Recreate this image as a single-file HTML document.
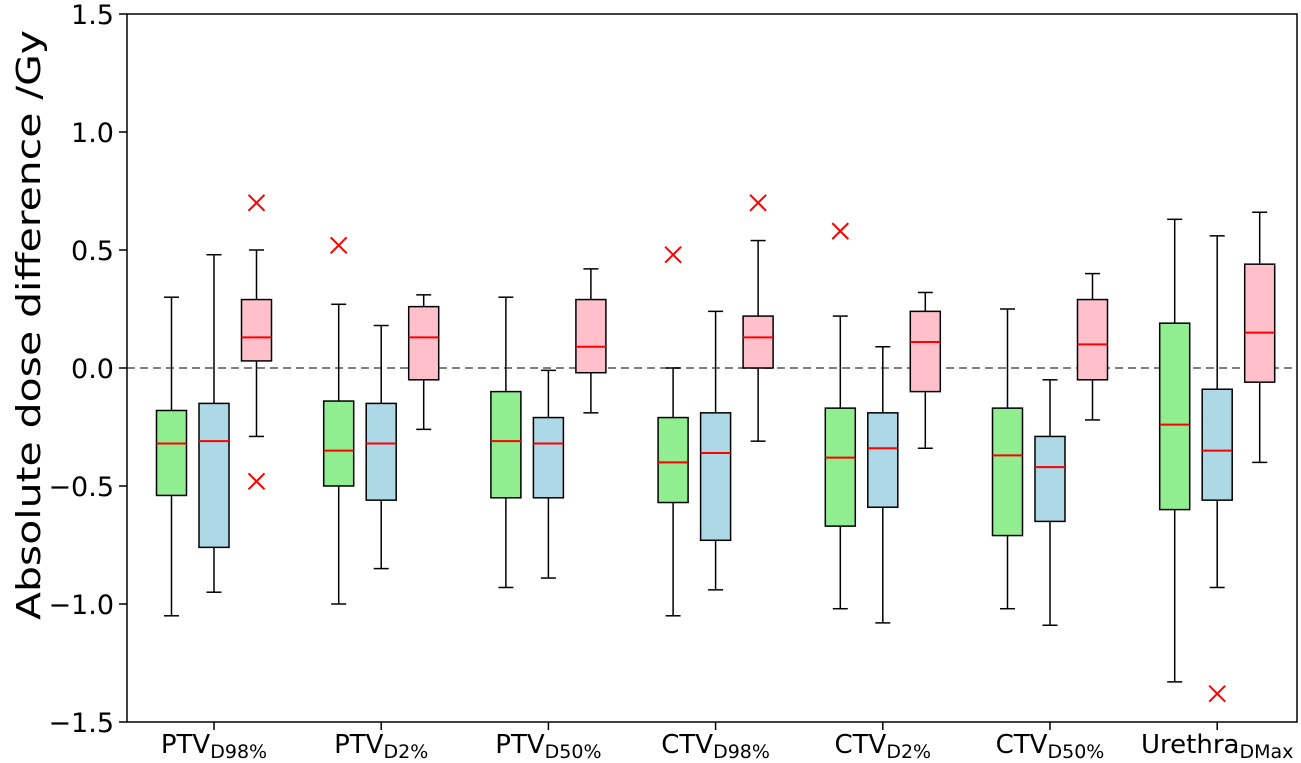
<!DOCTYPE html>
<html><head><meta charset="utf-8"><style>
html,body{margin:0;padding:0;background:#fff;}
svg{display:block;font-family:"DejaVu Sans","Liberation Sans",sans-serif;}
</style></head><body>
<svg id="chart" width="1301" height="763" viewBox="0 0 1301 763">
<text transform="translate(40,325) rotate(-90)" text-anchor="middle" font-size="33" textLength="590" lengthAdjust="spacingAndGlyphs">Absolute dose difference /Gy</text>
</svg>
<script>
const categories=["PTV|D98%","PTV|D2%","PTV|D50%","CTV|D98%","CTV|D2%","CTV|D50%","Urethra|DMax"];
// [whiskerLow, q1, median, q3, whiskerHigh]
const greenStats=[[-1.05,-0.54,-0.32,-0.18,0.30],[-1.00,-0.50,-0.35,-0.14,0.27],[-0.93,-0.55,-0.31,-0.10,0.30],[-1.05,-0.57,-0.40,-0.21,0.00],[-1.02,-0.67,-0.38,-0.17,0.22],[-1.02,-0.71,-0.37,-0.17,0.25],[-1.33,-0.60,-0.24,0.19,0.63]];
const blueStats=[[-0.95,-0.76,-0.31,-0.15,0.48],[-0.85,-0.56,-0.32,-0.15,0.18],[-0.89,-0.55,-0.32,-0.21,-0.01],[-0.94,-0.73,-0.36,-0.19,0.24],[-1.08,-0.59,-0.34,-0.19,0.09],[-1.09,-0.65,-0.42,-0.29,-0.05],[-0.93,-0.56,-0.35,-0.09,0.56]];
const pinkStats=[[-0.29,0.03,0.13,0.29,0.50],[-0.26,-0.05,0.13,0.26,0.31],[-0.19,-0.02,0.09,0.29,0.42],[-0.31,0.00,0.13,0.22,0.54],[-0.34,-0.10,0.11,0.24,0.32],[-0.22,-0.05,0.10,0.29,0.40],[-0.40,-0.06,0.15,0.44,0.66]];
const greenOutliers=[[],[0.52],[],[0.48],[0.58],[],[]];
const blueOutliers=[[],[],[],[],[],[],[-1.38]];
const pinkOutliers=[[0.70,-0.48],[],[],[0.70],[],[],[]];
const yTicks=[-1.5,-1.0,-0.5,0.0,0.5,1.0,1.5];
const yTickLabels=["\u22121.5","\u22121.0","\u22120.5","0.0","0.5","1.0","1.5"];

const svg=document.getElementById('chart');
const NS="http://www.w3.org/2000/svg";
const L=127,R=1297,T=14,B=722;
const y=v=>368-v*236;
const x=i=>214+i*167.2;
function mk(tag,attrs,parent){const e=document.createElementNS(NS,tag);for(const k in attrs)e.setAttribute(k,attrs[k]);(parent||svg).appendChild(e);return e;}

const zero=mk('line',{x1:L,x2:R,y1:y(0),y2:y(0),stroke:'#808080','stroke-width':2,'stroke-dasharray':'8,5'});



const series=[[greenStats,greenOutliers,'#90ee90',-42.5,'green'],[blueStats,blueOutliers,'#add8e6',0,'blue'],[pinkStats,pinkOutliers,'#ffc0cb',42.5,'pink']];
series.forEach(([st,out,col,off,nm])=>{
  st.forEach((s,i)=>{
    const cx=x(i)+off,w=30;
    const g=mk('g',{});
    
    
    mk('line',{x1:cx,x2:cx,y1:y(s[4]),y2:y(s[3]),stroke:'#000','stroke-width':1.5},g);
    mk('line',{x1:cx,x2:cx,y1:y(s[1]),y2:y(s[0]),stroke:'#000','stroke-width':1.5},g);
    mk('line',{x1:cx-w/4,x2:cx+w/4,y1:y(s[4]),y2:y(s[4]),stroke:'#000','stroke-width':1.5},g);
    mk('line',{x1:cx-w/4,x2:cx+w/4,y1:y(s[0]),y2:y(s[0]),stroke:'#000','stroke-width':1.5},g);
    mk('rect',{x:cx-w/2,y:y(s[3]),width:w,height:y(s[1])-y(s[3]),fill:col,stroke:'#000','stroke-width':1.5},g);
    mk('line',{x1:cx-w/2,x2:cx+w/2,y1:y(s[2]),y2:y(s[2]),stroke:'#ff0000','stroke-width':2},g);
    out[i].forEach(v=>{
      const o=mk('path',{d:`M${cx-8},${y(v)-8}L${cx+8},${y(v)+8}M${cx-8},${y(v)+8}L${cx+8},${y(v)-8}`,stroke:'#ff0000','stroke-width':2,fill:'none'});
      
      
    });
  });
});

const frame=mk('rect',{x:L,y:T,width:R-L,height:B-T,fill:'none',stroke:'#000','stroke-width':1.5});



yTicks.forEach((v,i)=>{
  mk('line',{x1:L-8,x2:L,y1:y(v),y2:y(v),stroke:'#000','stroke-width':1.5});
  const t=mk('text',{x:L-13,y:y(v)+10,'text-anchor':'end','font-size':27});
  t.textContent=yTickLabels[i];
  
  
});
categories.forEach((c,i)=>{
  const [main,sub]=c.split('|');
  mk('line',{x1:x(i),x2:x(i),y1:B,y2:B+8,stroke:'#000','stroke-width':1.5});
  const t=mk('text',{x:x(i),y:753,'text-anchor':'middle','font-size':26});
  
  
  const a=mk('tspan',{},t);a.textContent=main;
  const b=mk('tspan',{'font-size':19,dy:5},t);b.textContent=sub;
});
</script>
</body></html>
